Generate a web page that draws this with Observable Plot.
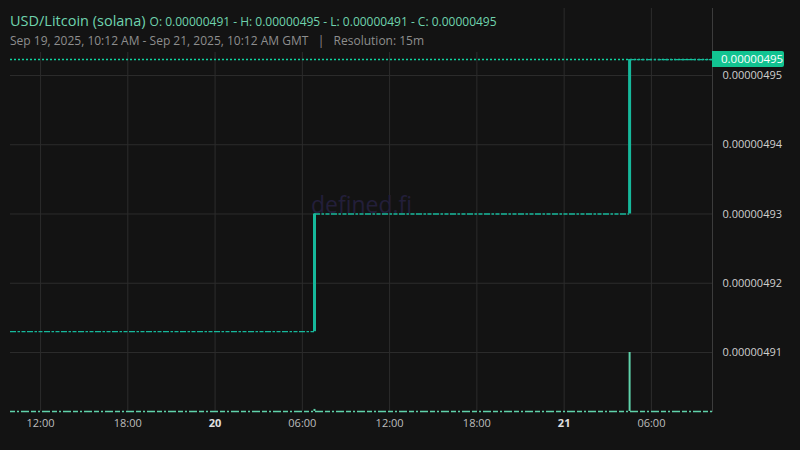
<!DOCTYPE html>
<html><head><meta charset="utf-8">
<script src="https://cdn.jsdelivr.net/npm/d3@7"></script>
<script src="https://cdn.jsdelivr.net/npm/@observablehq/plot@0.6"></script>
<style>
html,body{margin:0;padding:0;background:#131313;}
#wrap{position:relative;width:800px;height:450px;overflow:hidden;font-family:"Open Sans",sans-serif;}
#wrap svg{position:absolute;left:0;top:0;}
#hdr{position:absolute;left:0;top:0;padding:0 8px 0 10px;height:52px;background:#131313;z-index:3;}
.hl{position:absolute;left:10px;white-space:nowrap;}
#t1{top:9px;color:#6fd3ae;}
#t1 .name{font-size:14.5px;}
#t1 .ohlc{font-size:12px;margin-left:4px;}
#t2{top:32px;color:#8e8e8e;font-size:12px;}
#plabel{position:absolute;background:#12c391;color:#fff;font-size:11.5px;height:16px;line-height:16px;padding-left:9px;width:63px;border-radius:0 2px 2px 0;z-index:4;}
</style></head>
<body><div id="wrap">
<div id="hdr" style="width:490px">
<div class="hl" id="t1"><span class="name">USD/Litcoin (solana)</span><span class="ohlc">O: 0.00000491 - H: 0.00000495 - L: 0.00000491 - C: 0.00000495</span></div>
<div class="hl" id="t2">Sep 19, 2025, 10:12 AM - Sep 21, 2025, 10:12 AM GMT &nbsp;&nbsp;|&nbsp;&nbsp; Resolution: 15m</div>
</div>
</div>
<script>
// ---- data ----
const levelStart = ["2025-09-19T09:56Z", "2025-09-20T06:50Z", "2025-09-21T04:30Z"];
const levelEnd   = ["2025-09-20T06:50Z", "2025-09-21T04:30Z", "2025-09-21T10:12Z"];
const levelPrice = [4.9130e-6, 4.9300e-6, 4.9523e-6];
const jumpTime  = ["2025-09-20T06:50Z", "2025-09-21T04:30Z"];
const jumpOpen  = [4.9130e-6, 4.9300e-6];
const jumpClose = [4.9300e-6, 4.9523e-6];
const volTime  = ["2025-09-20T06:50Z", "2025-09-21T04:30Z"];
const volValue = [0.6, 17];
const lastPrice = 4.9523e-6;
const priceTicks = [4.91e-6, 4.92e-6, 4.93e-6, 4.94e-6, 4.95e-6];
const timeTicks = ["2025-09-19T12:00Z","2025-09-19T18:00Z","2025-09-20T00:00Z","2025-09-20T06:00Z","2025-09-20T12:00Z","2025-09-20T18:00Z","2025-09-21T00:00Z","2025-09-21T06:00Z"];
const timeLabels = ["12:00","18:00","20","06:00","12:00","18:00","21","06:00"];
const timeDomain = ["2025-09-19T09:56Z", "2025-09-21T10:12Z"];
const priceDomain = [4.90148e-6, 4.959675e-6];

// ---- build tables ----
const levels = levelPrice.map((p,i)=>({x1:new Date(levelStart[i]), x2:new Date(levelEnd[i]), p}));
const jumps = jumpTime.map((t,i)=>({t:new Date(t), o:jumpOpen[i], c:jumpClose[i]}));
const vols = volTime.map((t,i)=>({t:new Date(t), v:volValue[i]}));
const ticks = timeTicks.map((t,i)=>({t:new Date(t), label:timeLabels[i], bold:!timeLabels[i].includes(":")}));

const W=800,H=450, mL=10, mR=88, mT=8, mB=39;
const xOpts = {type:"utc", domain: timeDomain.map(d=>new Date(d))};
const grid="#2c2c2c", teal="#16b89b", mint="#5fd2aa";
const font = `"Open Sans", sans-serif`;

const price = Plot.plot({
  width:W, height:H, marginLeft:mL, marginRight:mR, marginTop:mT, marginBottom:mB,
  style:{background:"transparent", fontFamily:font, color:"#c8c8c8"},
  x:{...xOpts, axis:null},
  y:{domain:priceDomain, axis:null},
  marks:[
    Plot.gridY(priceTicks, {stroke:grid, strokeOpacity:1}),
    Plot.gridX(ticks.map(d=>d.t), {stroke:grid, strokeOpacity:1}),
    Plot.frame({anchor:"right", stroke:"#3c3c3c"}),
    Plot.axisY(priceTicks, {anchor:"right", tickSize:0, tickPadding:10, tickFormat:d=>d.toFixed(8), fontSize:11, fill:"#cfcfcf"}),
    Plot.text(ticks.filter(d=>!d.bold), {x:"t", text:"label", frameAnchor:"bottom", dy:15, fontSize:11, fill:"#bdbdbd"}),
    Plot.text(ticks.filter(d=>d.bold), {x:"t", text:"label", frameAnchor:"bottom", dy:15, fontSize:11, fill:"#e0e0e0", fontWeight:"bold"}),
    Plot.text(["defined.fi"], {frameAnchor:"middle", dy:-4, fontSize:23, fill:"#231f3a"}),
    Plot.ruleY([lastPrice], {stroke:"#0fd3a0", strokeDasharray:"2,2", strokeWidth:1.6}),
    Plot.ruleY(levels, {y:"p", x1:"x1", x2:"x2", stroke:teal, strokeWidth:1.3, strokeDasharray:"6,1.5,2.5,1.5,4,1.5"}),
    Plot.ruleX(jumps, {x:"t", y1:"o", y2:"c", stroke:teal, strokeWidth:3})
  ]
});
document.getElementById("wrap").appendChild(price);

const vMax = d3.max(volValue);
const vol = Plot.plot({
  width:W, height:H, marginLeft:mL, marginRight:mR, marginTop:mT, marginBottom:mB,
  style:{background:"transparent"},
  x:{...xOpts, axis:null},
  y:{domain:[0, vMax*403/59], axis:null},
  marks:[
    Plot.ruleY([0], {stroke:mint, strokeWidth:1.5, strokeDasharray:"5,2,2,2,8,2"}),
    Plot.ruleX(vols, {x:"t", y1:0, y2:"v", stroke:mint, strokeWidth:2})
  ]
});
document.getElementById("wrap").appendChild(vol);

const ys = price.scale("y"), xs = price.scale("x");
const lab = document.createElement("div");
lab.id="plabel";
lab.textContent = lastPrice.toFixed(8);
lab.style.left = (xs.apply(new Date(timeDomain[1]))) + "px";
lab.style.top = (ys.apply(lastPrice) - 8) + "px";
document.getElementById("wrap").appendChild(lab);
</script></body></html>
